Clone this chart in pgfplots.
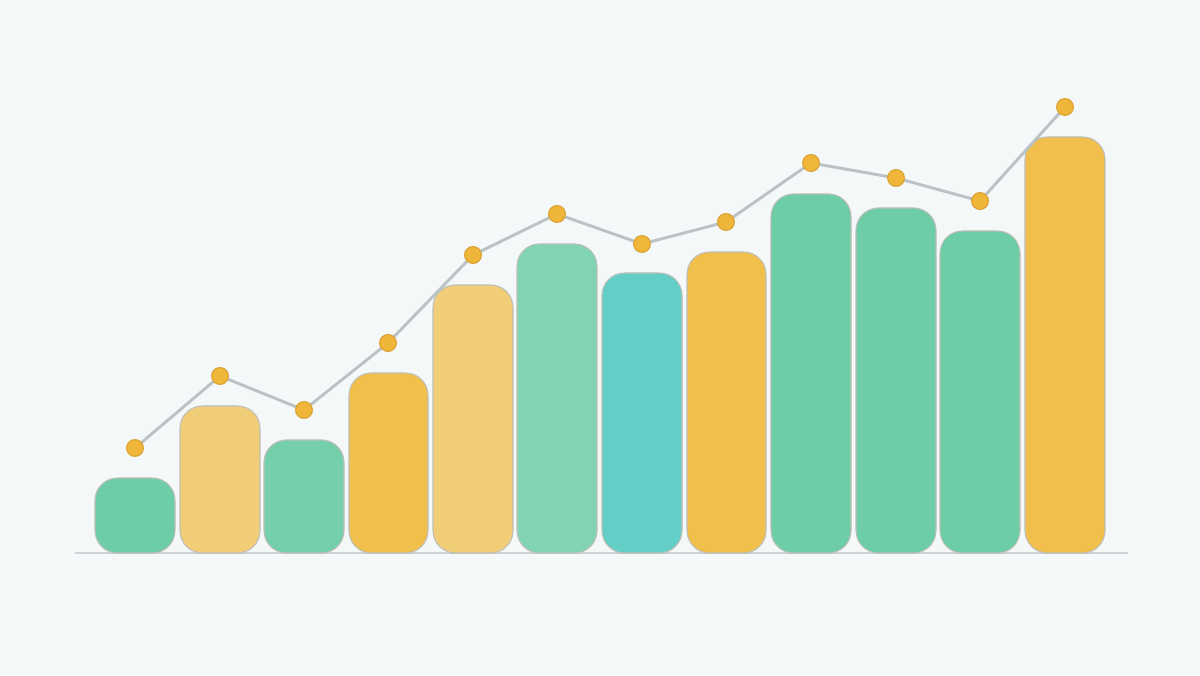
\documentclass[border=0pt]{standalone}
\usepackage{pgfplots}
\pgfplotsset{compat=1.18}
\usepackage{pgfplotstable}

\definecolor{bg}{HTML}{F4F8F9}
\definecolor{base}{HTML}{CDD3D5}
\definecolor{edge}{HTML}{BDBFB8}
\definecolor{linec}{HTML}{BAC2C5}
\definecolor{dotc}{HTML}{F0B63A}
\definecolor{dotedge}{HTML}{D9A232}
\definecolor{cgreen}{HTML}{6CCDA6}
\definecolor{cgreenb}{HTML}{74CFAA}
\definecolor{clgreen}{HTML}{81D4B3}
\definecolor{cteal}{HTML}{63CEC6}
\definecolor{cyellow}{HTML}{F0BF4C}
\definecolor{clyellow}{HTML}{F2CD78}

% trend line above the bars (x = centre, y = height above base line)
\pgfplotstableread{
x y
135 105
220 177
304 143
388 210
473 298
557 339
642 309
726 331
811 390
896 375
980 352
1065 446
}\trend

% one rounded bar: centre, left, right, height, colour
\newcommand{\rbar}[5]{%
  \addplot[draw=edge, line width=0.4pt, fill=#5, rounded corners=8.5pt]
    coordinates {(#1,0) (#3,0) (#3,#4) (#2,#4) (#2,0)} --cycle;}

\begin{document}
\begin{tikzpicture}
\fill[bg] (0,0) rectangle (16cm,9cm);
\begin{axis}[
    at={(0,0)}, anchor=south west,
    scale only axis,
    width=16cm, height=9cm,
    xmin=0, xmax=1200,
    ymin=-122, ymax=553,
    hide axis,
    clip=false,
]
\addplot[base, line width=0.8pt] coordinates {(75,0) (1128,0)};

\rbar{135}{95}{175}{75}{cgreen}
\rbar{220}{180}{260}{147}{clyellow}
\rbar{304}{264}{344}{113}{cgreenb}
\rbar{388}{349}{428}{180}{cyellow}
\rbar{473}{433}{513}{268}{clyellow}
\rbar{557}{517}{597}{309}{clgreen}
\rbar{642}{602}{682}{280}{cteal}
\rbar{726}{687}{766}{301}{cyellow}
\rbar{811}{771}{851}{359}{cgreen}
\rbar{896}{856}{936}{345}{cgreen}
\rbar{980}{940}{1020}{322}{cgreen}
\rbar{1065}{1025}{1105}{416}{cyellow}

\addplot[linec, line width=1.1pt, mark=*,
    mark size=3.2pt,
    mark options={fill=dotc, draw=dotedge, line width=0.4pt}]
    table[x=x, y=y] {\trend};
\end{axis}
\end{tikzpicture}
\end{document}
